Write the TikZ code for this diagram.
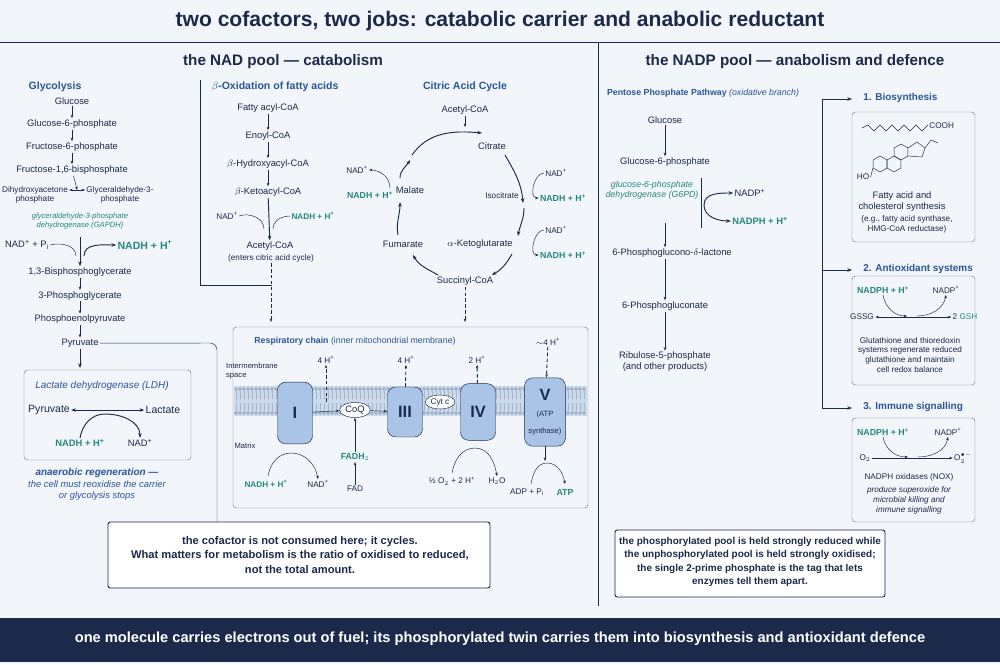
\documentclass[tikz,border=0pt]{standalone}
\usepackage{fontspec}
\setmainfont{Liberation Sans}
\usetikzlibrary{positioning, arrows.meta, shapes.geometric}
\definecolor{navy}{HTML}{1B2A4A}
\definecolor{hdblue}{HTML}{2A5699}
\definecolor{tealc}{HTML}{24897E}
\definecolor{bgcol}{HTML}{F2F5FA}
\definecolor{cplx}{HTML}{A9C4E6}
\definecolor{memb}{HTML}{C9DAEE}
\newcommand{\atpfont}{\mdseries\fontsize{6.5}{7}\selectfont}
\newcommand{\pos}{\textsuperscript{+}}
\tikzset{
txt/.style={text=navy, font=\fontsize{8}{9.5}\selectfont, inner sep=1pt, align=center},
sml/.style={txt, font=\fontsize{7}{8.5}\selectfont},
redc/.style={txt, text=tealc, font=\bfseries\fontsize{8}{9.5}\selectfont},
enz/.style={txt, text=tealc, font=\itshape\fontsize{7.5}{9}\selectfont},
ttl/.style={text=hdblue, font=\bfseries\fontsize{9}{11}\selectfont, inner sep=1pt},
hdr/.style={text=navy, font=\bfseries\fontsize{13}{15}\selectfont},
flow/.style={-{Stealth[length=4pt]}, navy, thick},
lite/.style={-{Stealth[length=3pt]}, navy},
pump/.style={-{Stealth[length=3pt]}, navy, thick, densely dashed},
panel/.style={draw=navy!60, fill=bgcol, rounded corners=3pt},
note/.style={draw=navy, thick, fill=white, rounded corners=2pt},
complex/.style={draw=navy, fill=cplx, rounded corners=7pt, minimum width=1.05cm, minimum height=1.85cm, text=navy, font=\bfseries\fontsize{14}{14}\selectfont}}

\begin{document}
\begin{tikzpicture}[x=0.03cm, y=-0.03cm]
\fill[bgcol] (0,0) rectangle (1000,664);
\useasboundingbox (0,0) rectangle (1000,664);
\node[text=navy, font=\bfseries\fontsize{18}{20}\selectfont] at (500,21) (title) {two cofactors, two jobs: catabolic carrier and anabolic reductant};
\draw[navy, thick] (0,42) -- (1000,42);
\draw[navy, thick] (598,42) -- (598,606);
\node[hdr] at (283,62) (hl) {the NAD pool — catabolism};
\node[hdr] at (795,62) (hr) {the NADP pool — anabolism and defence};

% glycolysis
\node[ttl] at (55,87) (glyc) {Glycolysis};
\foreach \lbl [count=\i, evaluate={\yy=101+23*(\i-1); \ii=int(\i-1);}] in {Glucose, Glucose-6-phosphate, Fructose-6-phosphate, {Fructose-1,6-bisphosphate}}{
  \node[txt] at (72,\yy) (g-\i) {\lbl};
  \ifnum\i>1 \draw[lite] (g-\ii) -- (g-\i); \fi
}
\node[sml, font=\fontsize{7}{8}\selectfont] at (35,195) (dhap) {Dihydroxyacetone\\phosphate};
\node[sml, font=\fontsize{7}{8}\selectfont] at (120,195) (gap) {Glyceraldehyde-3-\\phosphate};
\draw[{Stealth[length=3pt]}-{Stealth[length=3pt]}, navy] (dhap.east |- 0,190) -- (gap.west |- 0,190) coordinate[midway] (split);
\draw[lite] (g-4) -- (split);
\node[enz, font=\itshape\fontsize{6.5}{8}\selectfont] at (80,221) (gapdh) {glyceraldehyde-3-phosphate\\dehydrogenase (GAPDH)};
\foreach \lbl [count=\i, evaluate={\ii=int(\i-1);}] in {{1,3-Bisphosphoglycerate}, 3-Phosphoglycerate, Phosphoenolpyruvate, Pyruvate}{
  \node[txt] at (80,{272+23.7*(\i-1)}) (b-\i) {\lbl};
  \ifnum\i>1 \draw[lite] (b-\ii) -- (b-\i); \fi
}
\coordinate (gtop) at (80,237);
\draw[flow] (gtop) -- (b-1);
\node[txt] at (27,245) (nadpi) {NAD\pos{} + P$_\mathrm{i}$};
\node[redc, font=\bfseries\fontsize{9}{10}\selectfont] at (145,245) (nadh1) {NADH + H\pos};
\draw[navy] (nadpi.east) to[out=15, in=90] (76,256);
\draw[flow] (84,256) to[out=90, in=180] (nadh1.west);
\draw[flow] (b-4) -- (80,368);
\draw[navy] (b-4.east) -- (210,343) to[out=0, in=90] (217,350) -- (217,522);
\draw[panel] (24,370) rectangle (191,460);
\node[txt, text=hdblue, font=\itshape\fontsize{8.5}{10}\selectfont] at (102,386) (ldh) {Lactate dehydrogenase (LDH)};
\node[txt, font=\fontsize{9}{10}\selectfont] at (49,410) (lpyr) {Pyruvate};
\node[txt, font=\fontsize{9}{10}\selectfont] at (163,410) (lac) {Lactate};
\draw[{Stealth[length=4pt]}-{Stealth[length=4pt]}, navy, thick] (lpyr) -- (lac);
\node[redc] at (80,443) (nadh2) {NADH + H\pos};
\node[txt] at (140,443) (nad2) {NAD\pos};
\draw[flow] (nadh2.north) to[out=80, in=180] (105,414) to[out=0, in=90] (nad2.north);
\node[txt, text=hdblue, font=\bfseries\itshape\fontsize{8.5}{10}\selectfont] at (97,473) (anr) {anaerobic regeneration —};
\node[txt, text=hdblue, font=\itshape\fontsize{8}{9.5}\selectfont] at (97,491) (anr2) {the cell must reoxidise the carrier\\or glycolysis stops};

% beta oxidation
\draw[navy] (200,80) -- (200,285) -- (272,285);
\node[ttl] at (275,87) (box) {$\beta$-Oxidation of fatty acids};
\foreach \lbl [count=\i, evaluate={\ii=int(\i-1);}] in {Fatty acyl-CoA, Enoyl-CoA, $\beta$-Hydroxyacyl-CoA, $\beta$-Ketoacyl-CoA}{
  \node[txt] at (268,{108+28*(\i-1)}) (f-\i) {\lbl};
  \ifnum\i>1 \draw[lite] (f-\ii) -- (f-\i); \fi
}
\node[txt] at (270,246) (acoa) {Acetyl-CoA};
\node[sml] at (271,258) (enters) {(enters citric acid cycle)};
\draw[flow] (f-4) -- (acoa);
\node[sml] at (227,216) (nad3) {NAD\pos};
\node[redc, font=\bfseries\fontsize{7}{8}\selectfont] at (313,216) (nadh3) {NADH + H\pos};
\draw[navy] (nad3.east) to[out=20, in=90] (264,229);
\draw[navy] (273,229) to[out=90, in=180] (nadh3.west);
\coordinate (rtop) at (271,322);
\draw[pump] (enters) -- (rtop);

% citric acid cycle
\node[ttl] at (465,87) (tca) {Citric Acid Cycle};
\node[txt] at (465,110) (ac2) {Acetyl-CoA};
\draw[lite] (ac2) -- (465,127);
\node[txt] at (492,146) (cit) {Citrate};
\node[sml] at (502,196) (iso) {Isocitrate};
\node[txt] at (480,244) (akg) {$\alpha$-Ketoglutarate};
\node[txt] at (465,281) (suc) {Succinyl-CoA};
\node[txt] at (403,244) (fum) {Fumarate};
\node[txt] at (410,190) (mal) {Malate};
\draw[flow] (412,155) to[out=55, in=175] (482,133);
\draw[flow] (505,155) to[out=-60, in=95] (523,203);
\draw[flow] (524,208) to[out=-90, in=80] (518,236);
\draw[flow] (512,254) to[out=-120, in=30] (492,275);
\draw[flow] (438,275) to[out=150, in=-60] (413,255);
\draw[flow] (398,235) to[out=100, in=-90] (400,202);
\draw[flow] (400,178) to[out=90, in=-120] (410,160);
\node[sml] at (357,170) (nad4) {NAD\pos};
\node[redc, font=\bfseries\fontsize{7.5}{9}\selectfont] at (370,195) (nadh4) {NADH + H\pos};
\draw[lite] (390,188) to[out=90, in=0] (nad4.east);
\foreach \yy/\nm in {173/a, 230/b}{
  \node[sml] at (556,\yy) (nad5\nm) {NAD\pos};
  \node[redc, font=\bfseries\fontsize{7.5}{9}\selectfont] at (563,{\yy+25}) (nadh5\nm) {NADH + H\pos};
  \draw[lite] (nad5\nm.west) to[out=180, in=180] (nadh5\nm.west);
}
\draw[pump] (suc) -- (465,322);

% respiratory chain
\draw[panel] (233,327) rectangle (588,508);
\node[txt, text=hdblue, font=\bfseries\fontsize{7.5}{9}\selectfont] at (355,341) (rc) {Respiratory chain {\mdseries(inner mitochondrial membrane)}};
\fill[memb] (234,386) rectangle (587,416);
\foreach \xx in {236,240,...,586}{
  \draw[navy!60, line width=0.3pt] (\xx,389) circle (1.3);
  \draw[navy!60, line width=0.3pt] (\xx,413) circle (1.3);
  \draw[navy!35, line width=0.3pt] (\xx,391) -- (\xx,399) (\xx,403) -- (\xx,411);
}
\node[sml, align=left, font=\fontsize{6.5}{8}\selectfont] at (252,371) (ims) {Intermembrane\\space};
\node[sml, font=\fontsize{6.5}{8}\selectfont] at (245,446) (mtx) {Matrix};
\node[complex] at (295,413) (c1) {I};
\node[complex, minimum height=1.5cm] at (405,412) (c3) {III};
\node[complex, minimum height=1.7cm] at (478,412) (c4) {IV};
\node[complex, minimum width=0.9cm, minimum height=2.05cm, align=center] at (545,412) (c5) {V\\\atpfont (ATP\\\atpfont synthase)};
\node[draw=navy, fill=white, ellipse, inner sep=1.5pt, minimum width=0.9cm, txt] at (355,410) (coq) {CoQ};
\node[draw=navy, fill=white, ellipse, inner sep=1pt, sml] at (440,402) (cytc) {Cyt c};
\draw[lite] (c1) -- (coq);
\draw[lite] (coq) -- (c3);
\node[sml] at (326,360) (h1) {4 H\pos};
\node[sml] at (406,360) (h3) {4 H\pos};
\node[sml] at (477,360) (h4) {2 H\pos};
\node[sml] at (548,342) (h5) {$\sim$4 H\pos};
\draw[pump] (326,402) -- (h1);
\draw[pump] (c3) -- (h3);
\draw[pump] (c4) -- (h4);
\draw[pump] (h5) -- (c5);
\node[redc, font=\bfseries\fontsize{7.5}{9}\selectfont] at (355,457) (fadh) {FADH$_2$};
\node[sml] at (355,489) (fad) {FAD};
\draw[lite] (fad) -- (fadh);
\draw[lite] (fadh) -- (coq);
\node[redc, font=\bfseries\fontsize{7}{8.5}\selectfont] at (266,484) (nadh6) {NADH + H\pos};
\node[sml] at (318,484) (nad6) {NAD\pos};
\draw[lite] (268,476) to[out=80, in=180] (291,453) to[out=0, in=100] (nad6.north);
\node[sml] at (452,481) (o2) {½ O$_2$ + 2 H\pos};
\node[sml] at (497,481) (h2o) {H$_2$O};
\draw[lite] (452,473) to[out=80, in=180] (475,448) to[out=0, in=100] (h2o.north);
\node[sml] at (527,492) (adp) {ADP + P$_\mathrm{i}$};
\node[redc, font=\bfseries\fontsize{7.5}{9}\selectfont] at (565,492) (atp) {ATP};
\draw[lite] (c5) -- (545,461);
\draw[lite] (531,484) to[out=80, in=180] (547,463) to[out=0, in=100] (565,484);

% pentose phosphate
\node[ttl, font=\bfseries\fontsize{7.5}{9}\selectfont] at (703,93) (ppp) {Pentose Phosphate Pathway {\mdseries\itshape(oxidative branch)}};
\node[txt] at (665,120) (p-1) {Glucose};
\node[txt] at (665,162) (p-2) {Glucose-6-phosphate};
\node[txt] at (672,253) (p-3) {6-Phosphoglucono-$\delta$-lactone};
\node[txt] at (665,306) (p-4) {6-Phosphogluconate};
\node[txt] at (665,362) (p-5) {Ribulose-5-phosphate\\(and other products)};
\draw[lite] (p-1) -- (p-2);
\coordinate (p-top) at (665,223);
\draw[lite] (p-top) -- (p-3.north -| p-top);
\draw[lite] (p-3.south -| p-4) -- (p-4);
\draw[lite] (p-4) -- (p-5);
\node[enz] at (652,190) (g6pd) {glucose-6-phosphate\\dehydrogenase (G6PD)};
\draw[navy] (701,178) -- (701,228);
\node[txt] at (750,193) (nadp1) {NADP\pos};
\node[redc] at (760,221) (nadph1) {NADPH + H\pos};
\draw[flow] (704,205) to[out=90, in=180] (nadp1.west);
\draw[flow] (704,205) to[out=-90, in=180] (nadph1.west);

% three uses
\draw[navy, thick] (822,99) -- (822,408);
\foreach \yy/\nm/\lbl in {99/u1/1. Biosynthesis, 270/u2/2. Antioxidant systems, 408/u3/3. Immune signalling}{
  \coordinate (\nm) at (852,\yy);
  \draw[flow] (822,\yy) -- (\nm);
  \node[ttl, anchor=west, font=\bfseries\fontsize{8.5}{10}\selectfont] at (862,{\yy-1}) (t\nm) {\lbl};
}
\draw[panel] (852,112) rectangle (975,242);
\draw[panel] (852,276) rectangle (975,385);
\draw[panel] (852,418) rectangle (975,522);
\draw[navy] (862,128) \foreach \k in {1,...,11}{ -- ({862+6*\k},{131-6*mod(\k,2)}) };
\node[sml, anchor=west] at (928,126) (cooh) {COOH};
\foreach \cx/\cy in {880/164, 894/164, 901/152}{
  \draw[navy] ({\cx+8*cos(30)},{\cy+8*sin(30)}) \foreach \a in {90,150,...,330}{ -- ({\cx+8*cos(\a)},{\cy+8*sin(\a)}) } -- cycle;
}
\draw[navy] (908,148) -- (917,142) -- (925,148) -- (922,157) -- (908,156);
\draw[navy] (925,148) -- (931,140) -- (938,143);
\node[sml] at (863,177) (ho) {HO};
\draw[navy] (ho.east) -- (873,168);
\node[txt] at (902,202) (bs) {Fatty acid and\\cholesterol synthesis};
\node[sml] at (907,224) (bs2) {(e.g., fatty acid synthase,\\HMG-CoA reductase)};
% antioxidant
\node[redc, font=\bfseries\fontsize{7.5}{9}\selectfont] at (883,290) (nadph2) {NADPH + H\pos};
\node[sml] at (946,290) (nadp2) {NADP\pos};
\node[sml] at (862,317) (gssg) {GSSG};
\node[sml] at (965,317) (gsh) {2 {\color{tealc}GSH}};
\draw[{Stealth[length=3pt]}-{Stealth[length=3pt]}, navy] (gssg) -- (gsh);
\draw[lite] (nadph2.south) to[out=-80, in=180] (907,316);
\draw[lite] (917,316) to[out=0, in=-100] (nadp2.south);
\node[sml] at (910,355) (ao) {Glutathione and thioredoxin\\systems regenerate reduced\\glutathione and maintain\\cell redox balance};
% immune
\node[redc, font=\bfseries\fontsize{7.5}{9}\selectfont] at (883,432) (nadph3) {NADPH + H\pos};
\node[sml] at (948,432) (nadp3) {NADP\pos};
\node[sml] at (865,458) (o2a) {O$_2$};
\node[sml] at (963,458) (o2b) {O$_2^{\bullet-}$};
\draw[lite] (o2a) -- (o2b);
\draw[lite] (nadph3.south) to[out=-80, in=180] (908,457);
\draw[lite] (918,457) to[out=0, in=-100] (nadp3.south);
\node[sml] at (909,477) (nox) {NADPH oxidases (NOX)};
\node[sml, font=\itshape\fontsize{7}{8.5}\selectfont] at (909,500) (nox2) {produce superoxide for\\microbial killing and\\immune signalling};

% notes
\draw[note] (108,522) rectangle (490,588);
\node[txt, font=\bfseries\fontsize{9.5}{12}\selectfont] at (300,555) (n1) {the cofactor is not consumed here; it cycles.\\What matters for metabolism is the ratio of oxidised to reduced,\\not the total amount.};
\draw[note] (615,530) rectangle (885,597);
\node[txt, font=\bfseries\fontsize{8.5}{11.5}\selectfont] at (750,562) (n2) {the phosphorylated pool is held strongly reduced while\\the unphosphorylated pool is held strongly oxidised;\\the single 2-prime phosphate is the tag that lets\\enzymes tell them apart.};

% banner
\fill[navy] (0,618) rectangle (1000,662);
\node[text=white, font=\bfseries\fontsize{12.5}{14}\selectfont] at (500,639) (ban) {one molecule carries electrons out of fuel; its phosphorylated twin carries them into biosynthesis and antioxidant defence};
\end{tikzpicture}
\end{document}
